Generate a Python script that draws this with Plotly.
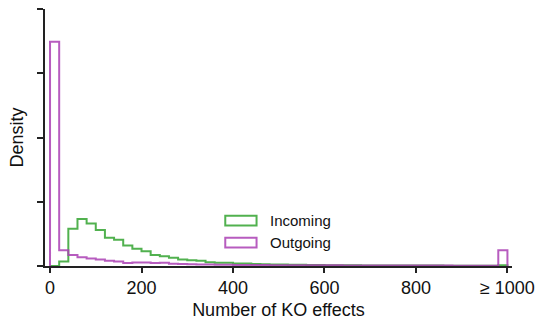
import plotly.graph_objects as go

# Histogram bins: 20-wide, last bin collects everything >= 980 (shown as ">= 1000")
bin_edges = list(range(0, 1001, 20))

# Density per bin (normalised histogram values)
incoming_density = [
    0.0, 0.0007, 0.0058, 0.0073, 0.0066, 0.0056, 0.0044, 0.0041, 0.0032, 0.0027,
    0.0023, 0.0017, 0.0015, 0.0013, 0.0010, 0.0009, 0.0008, 0.0006, 0.0005, 0.0005,
    0.0004, 0.0004, 0.0003, 0.00028, 0.00025, 0.00022, 0.0002, 0.00018, 0.00016, 0.00015,
    0.00013, 0.00012, 0.00011, 0.0001, 0.00009, 0.00009, 0.00008, 0.00008, 0.00007, 0.00007,
    0.00006, 0.00006, 0.00006, 0.00005, 0.00005, 0.00005, 0.00004, 0.00004, 0.00004, 0.0001,
]
outgoing_density = [
    0.0349, 0.00245, 0.0017, 0.00135, 0.00115, 0.001, 0.0008, 0.0007, 0.00045, 0.00055,
    0.00055, 0.00047, 0.0005, 0.00036, 0.0003, 0.00028, 0.00025, 0.00022, 0.0002, 0.00018,
    0.00017, 0.00016, 0.00015, 0.00014, 0.00013, 0.00012, 0.00012, 0.00011, 0.0001, 0.0001,
    0.00012, 0.0001, 0.00009, 0.00009, 0.00008, 0.00008, 0.00008, 0.00007, 0.00007, 0.00007,
    0.00006, 0.00006, 0.00006, 0.00006, 0.00005, 0.00005, 0.00005, 0.00005, 0.00005, 0.00245,
]

x_tick_values = [0, 200, 400, 600, 800, 1000]
x_tick_labels = ["0", "200", "400", "600", "800", "\u2265 1000"]
series_names = ["Incoming", "Outgoing"]

GREEN = "rgba(62,168,60,0.9)"
PURPLE = "rgba(170,64,180,0.85)"
FONT = "Liberation Sans, Arial, sans-serif"


def step_outline(edges, values):
    """Outline of a step histogram: up from the baseline, across each bin, back down."""
    xs = [edges[0]] + edges[:-1] + [edges[-1]]
    ys = [0.0] + list(values) + [0.0]
    return xs, ys


fig = go.Figure()
for name, vals, color in [
    (series_names[0], incoming_density, GREEN),
    (series_names[1], outgoing_density, PURPLE),
]:
    xs, ys = step_outline(bin_edges, vals)
    fig.add_trace(go.Scatter(
        x=xs, y=ys, mode="lines", name=name,
        line=dict(color=color, width=2, shape="hv"),
        showlegend=False, hoverinfo="skip",
    ))

# Legend: outlined patches with labels
legend_rows = [(series_names[0], GREEN, 0.177), (series_names[1], PURPLE, 0.0914)]
for label, color, yc in legend_rows:
    fig.add_shape(type="rect", xref="paper", yref="paper",
                  x0=0.386, x1=0.453, y0=yc - 0.019, y1=yc + 0.019,
                  line=dict(color=color, width=2), fillcolor="rgba(0,0,0,0)")
    fig.add_annotation(xref="paper", yref="paper", x=0.478, y=yc, text=label,
                       showarrow=False, xanchor="left", yanchor="middle",
                       font=dict(family=FONT, size=15, color="#111"))

fig.update_layout(
    width=542, height=320,
    margin=dict(l=45, r=30, t=9, b=54),
    paper_bgcolor="white", plot_bgcolor="white",
    font=dict(family=FONT, color="#111"),
    showlegend=False,
)
fig.update_xaxes(
    range=[-11, 1010], showgrid=False, zeroline=False, automargin=False,
    showline=True, linecolor="#222", linewidth=1.5,
    ticks="outside", ticklen=5, tickwidth=1.5, tickcolor="#222",
    tickvals=x_tick_values, ticktext=x_tick_labels,
    tickfont=dict(family=FONT, size=18, color="#111"),
    title=dict(text="Number of KO effects", font=dict(family=FONT, size=18, color="#111"), standoff=6),
)
fig.update_yaxes(
    range=[0, 0.04], showgrid=False, zeroline=False, automargin=False,
    showline=True, linecolor="#222", linewidth=1.5,
    ticks="outside", ticklen=6, tickwidth=1.5, tickcolor="#222",
    tickvals=[0, 0.01, 0.02, 0.03, 0.04], showticklabels=False,
    title=dict(text="Density", font=dict(family=FONT, size=18, color="#111"), standoff=9),
)

fig.write_html("out.html")
